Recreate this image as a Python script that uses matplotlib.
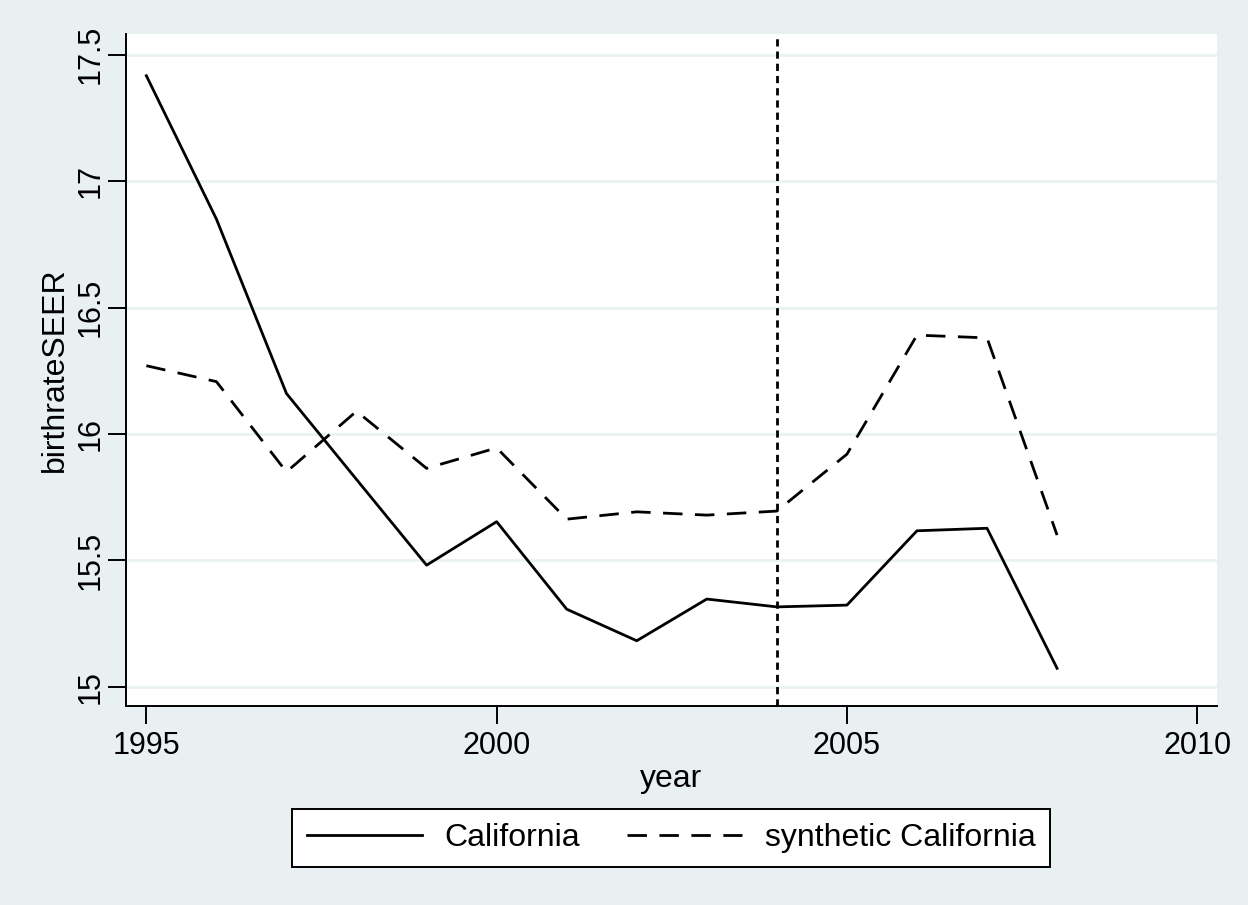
import numpy as np
import matplotlib
matplotlib.use("Agg")
import matplotlib.pyplot as plt

# data
years = np.arange(1995, 2009)
california = [17.417, 16.85, 16.16, 15.82, 15.481, 15.653, 15.307,
              15.182, 15.347, 15.316, 15.323, 15.617, 15.627, 15.073]
synthetic = [16.27, 16.207, 15.85, 16.09, 15.864, 15.945, 15.663,
             15.692, 15.679, 15.695, 15.92, 16.391, 16.38, 15.60]
treat_year = 2004
yticks = [15, 15.5, 16, 16.5, 17, 17.5]
ytick_labels = ["15", "15.5", "16", "16.5", "17", "17.5"]
xticks = [1995, 2000, 2005, 2010]

bg = "#e8f0f2"
plt.rcParams["font.family"] = ["Liberation Sans", "DejaVu Sans"]

fig = plt.figure(figsize=(12.48, 9.05), dpi=100, facecolor=bg)
ax = fig.add_axes([0.101, 0.2199, 0.874, 0.7425])
ax.set_facecolor("white")

ax.plot(years, california, color="black", lw=2.0, label="California")
ax.plot(years, synthetic, color="black", lw=2.0, dashes=(7, 4.5),
        label="synthetic California")
ax.axvline(treat_year, color="black", lw=2.0, dashes=(2.6, 1.8))

ax.set_xlim(1994.71, 2010.28)
ax.set_ylim(14.924, 17.582)
ax.set_yticks(yticks)
ax.set_yticklabels(ytick_labels)
ax.set_xticks(xticks)
ax.grid(axis="y", color="#eaf2f3", lw=2)
ax.set_axisbelow(True)

for s in ["top", "right"]:
    ax.spines[s].set_visible(False)
for s in ["left", "bottom"]:
    ax.spines[s].set_linewidth(1.4)

ax.tick_params(axis="both", direction="out", length=13, width=1.4,
               labelsize=22, color="black")
ax.tick_params(axis="y", pad=2, labelrotation=90)
ax.tick_params(axis="x", pad=5)
for lab in ax.get_yticklabels():
    lab.set_va("center")

ax.set_xlabel("year", fontsize=23, labelpad=2)
ax.set_ylabel("birthrateSEER", fontsize=23, labelpad=4)

leg = fig.legend(loc="center", bbox_to_anchor=(0.5377, 0.074), ncol=2,
                 fontsize=23, frameon=True, fancybox=False, edgecolor="black",
                 framealpha=1, handlelength=3.6, columnspacing=1.5,
                 borderpad=0.45, handletextpad=0.7, borderaxespad=0)
leg.get_frame().set_linewidth(1.4)
leg.get_frame().set_facecolor("white")

fig.savefig("out.png", dpi=100, facecolor=bg)
